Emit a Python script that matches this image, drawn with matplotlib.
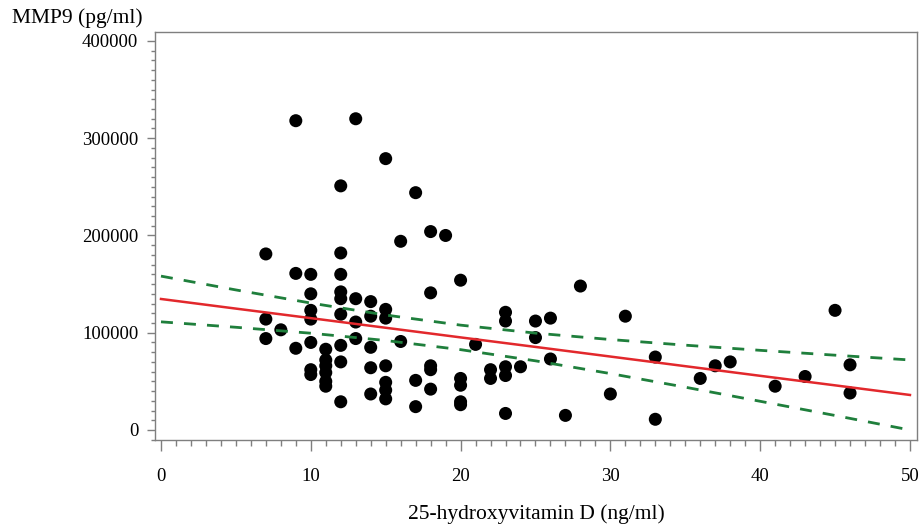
import matplotlib
matplotlib.use("Agg")
import matplotlib.pyplot as plt
from matplotlib.ticker import MultipleLocator
import numpy as np

# Scatter data: 25-hydroxyvitamin D (ng/ml) vs MMP9 (pg/ml)
vitd = [7, 7, 7,
        8,
        9, 9, 9,
        10, 10, 10, 10, 10, 10, 10,
        11, 11, 11, 11, 11, 11,
        12, 12, 12, 12, 12, 12, 12, 12, 12,
        13, 13, 13, 13,
        14, 14, 14, 14, 14,
        15, 15, 15, 15, 15, 15, 15,
        16, 16,
        17, 17, 17,
        18, 18, 18, 18, 18,
        19,
        20, 20, 20, 20, 20,
        21,
        22, 22,
        23, 23, 23, 23, 23,
        24,
        25, 25,
        26, 26,
        27, 28, 30, 31,
        33, 33,
        36, 37, 38, 41, 43, 45,
        46, 46]
mmp9 = [181000, 114000, 94000,
        103000,
        318000, 161000, 84000,
        160000, 140000, 123000, 114000, 90000, 62000, 57000,
        83000, 72000, 66000, 59000, 50000, 45000,
        251000, 182000, 160000, 142000, 135000, 119000, 87000, 70000, 29000,
        320000, 135000, 111000, 94000,
        132000, 117000, 85000, 64000, 37000,
        279000, 124000, 115000, 66000, 49000, 41000, 32000,
        194000, 91000,
        244000, 51000, 24000,
        204000, 141000, 66000, 62000, 42000,
        200000,
        154000, 53000, 46000, 29000, 26000,
        88000,
        62000, 53000,
        121000, 112000, 65000, 56000, 17000,
        65000,
        112000, 95000,
        115000, 73000,
        15000, 148000, 37000, 117000,
        75000, 11000,
        53000, 66000, 70000, 45000, 55000, 123000,
        67000, 38000]

# Fitted regression line and 95% confidence limits
fit_x = [0, 5, 10, 15, 20, 25, 30, 35, 40, 45, 50]
fit_y = [134700, 124800, 115000, 105100, 95200, 85400, 75500, 65600, 55700, 45900, 36000]
ci_upper = [158200, 144000, 130500, 118200, 107800, 99600, 93000, 87200, 81900, 76900, 72000]
ci_lower = [111200, 105600, 99500, 92000, 82600, 71100, 58000, 44000, 29500, 14900, 0]

x_ticks = [0, 10, 20, 30, 40, 50]
y_ticks = [0, 100000, 200000, 300000, 400000]

plt.rcParams['font.family'] = ['Liberation Serif', 'DejaVu Serif']

fig = plt.figure(figsize=(9.21, 5.28), dpi=100)
ax = fig.add_axes([155 / 921, 1 - 440 / 528, (917 - 155) / 921, (440 - 32) / 528])

ax.scatter(vitd, mmp9, s=88, color='black', edgecolors='none', zorder=2)
ax.plot(fit_x, fit_y, color='#e2282c', lw=1.8, zorder=3)
ax.plot(fit_x, ci_upper, color='#1f7f3c', lw=2.0, dashes=(4.3, 4.0), zorder=3)
ax.plot(fit_x, ci_lower, color='#1f7f3c', lw=2.0, dashes=(4.3, 4.0), zorder=3)

ax.set_xlim(-0.4, 50.47)
ax.set_ylim(-10300, 409200)
ax.set_xticks(x_ticks)
ax.set_yticks(y_ticks)
ax.set_xticklabels([str(v) for v in x_ticks])
ax.set_yticklabels([str(v) for v in y_ticks])
ax.xaxis.set_minor_locator(MultipleLocator(1))
ax.yaxis.set_minor_locator(MultipleLocator(10000))

spine_col = '#7f7f7f'
for sp in ax.spines.values():
    sp.set_color(spine_col)
    sp.set_linewidth(1.0)

ax.tick_params(axis='x', which='major', length=8, width=1, color=spine_col, pad=12, labelsize=13.5)
ax.tick_params(axis='x', which='minor', length=4.5, width=1, color=spine_col)
ax.tick_params(axis='y', which='major', length=6, width=1, color=spine_col, pad=6, labelsize=13.5)
ax.tick_params(axis='y', which='minor', length=3, width=1, color=spine_col)

fig.text(12 / 921, 1 - 18 / 528, 'MMP9 (pg/ml)', fontsize=15.5, ha='left', va='center')
fig.text(536 / 921, 1 - 514 / 528, '25-hydroxyvitamin D (ng/ml)', fontsize=15.5, ha='center', va='center')

fig.savefig('out.png', dpi=100)
